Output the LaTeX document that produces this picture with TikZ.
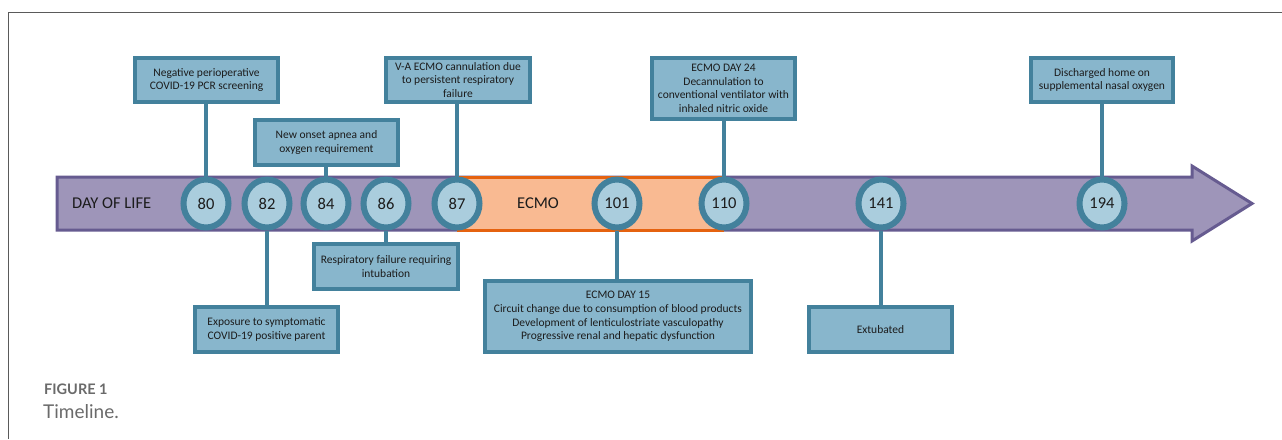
\documentclass[tikz,border=0pt]{standalone}
\usepackage{fontspec}
\setmainfont{Carlito}
\newfontfamily\capfont{Lato}
\usetikzlibrary{shapes.geometric}
\definecolor{framec}{HTML}{5A5A5A}
\definecolor{purf}{HTML}{9E95B9}
\definecolor{purb}{HTML}{665B90}
\definecolor{oraf}{HTML}{F9BA92}
\definecolor{orab}{HTML}{E5620F}
\definecolor{boxf}{HTML}{88B6CC}
\definecolor{boxb}{HTML}{43819C}
\definecolor{cirf}{HTML}{AACDDD}
\definecolor{txt}{HTML}{1C1C1C}
\definecolor{capc}{HTML}{6A6A6A}
\tikzset{
  evbox/.style={draw=boxb, fill=boxf, line width=4, align=center, text=txt,
    font=\fontsize{11.5}{13.6}\selectfont, inner sep=0pt},
  daycirc/.style={ellipse, draw=boxb, fill=cirf, line width=6, text=txt,
    minimum width=45, minimum height=48, inner sep=0pt, font=\fontsize{16.5}{18}\selectfont},
  conn/.style={draw=boxb, line width=4},
  bartext/.style={text=txt, font=\fontsize{16.5}{18}\selectfont, inner sep=0pt}
}
\begin{document}
\begin{tikzpicture}[x=1pt,y=-1pt]
\useasboundingbox (0,0) rectangle (1282,439);
% frame
\draw[framec, line width=1] (1282,12) -- (8,12) -- (8,439);
% main arrow
\draw[fill=purf, draw=purb, line width=3, line join=miter]
  (57,177) -- (1192,177) -- (1192,166) -- (1252,203.5) -- (1192,241) -- (1192,230) -- (57,230) -- cycle;
% ECMO band
\fill[oraf] (457,178.5) rectangle (724,228.5);
\draw[orab, line width=3] (457,177) -- (724,177);
\draw[orab, line width=3] (457,230) -- (724,230);
% bar texts
\node[bartext, anchor=west] (dol) at (72,203.5) {DAY OF LIFE};
\node[bartext] (ecmo) at (538,203.5) {ECMO};
% circles
\node[daycirc] (c80) at (206,203.5) {80};
\node[daycirc] (c82) at (267,203.5) {82};
\node[daycirc] (c84) at (326,203.5) {84};
\node[daycirc] (c86) at (386,203.5) {86};
\node[daycirc] (c87) at (457,203.5) {87};
\node[daycirc] (c101) at (617,203.5) {101};
\node[daycirc] (c110) at (724,203.5) {110};
\node[daycirc] (c141) at (881,203.5) {141};
\node[daycirc] (c194) at (1102,203.5) {194};
% boxes
\node[evbox, minimum width=143, minimum height=44] (neg) at (206.5,80)
  {Negative perioperative\\COVID-19 PCR screening};
\node[evbox, minimum width=143, minimum height=45] (apnea) at (326.5,142.5)
  {New onset apnea and\\oxygen requirement};
\node[evbox, minimum width=144, minimum height=44] (va) at (458,80)
  {V-A ECMO cannulation due\\to persistent respiratory\\failure};
\node[evbox, minimum width=143, minimum height=61] (d24) at (723.5,88.5)
  {ECMO DAY 24\\Decannulation to\\conventional ventilator with\\inhaled nitric oxide};
\node[evbox, minimum width=142, minimum height=44] (disch) at (1102,80)
  {Discharged home on\\supplemental nasal oxygen};
\node[evbox, minimum width=143, minimum height=45] (expo) at (266.5,329.5)
  {Exposure to symptomatic\\COVID-19 positive parent};
\node[evbox, minimum width=144, minimum height=45] (resp) at (386,266.5)
  {Respiratory failure requiring\\intubation};
\node[evbox, minimum width=266, minimum height=71] (d15) at (618,316.5)
  {ECMO DAY 15\\Circuit change due to consumption of blood products\\Development of lenticulostriate vasculopathy\\Progressive renal and hepatic dysfunction};
\node[evbox, minimum width=143, minimum height=45] (extub) at (880.5,329.5)
  {Extubated};
% connectors
\draw[conn] (c80.north) -- (c80.north |- neg.south);
\draw[conn] (c84.north) -- (c84.north |- apnea.south);
\draw[conn] (c87.north) -- (c87.north |- va.south);
\draw[conn] (c110.north) -- (c110.north |- d24.south);
\draw[conn] (c194.north) -- (c194.north |- disch.south);
\draw[conn] (c82.south) -- (c82.south |- expo.north);
\draw[conn] (c86.south) -- (c86.south |- resp.north);
\draw[conn] (c101.south) -- (c101.south |- d15.north);
\draw[conn] (c141.south) -- (c141.south |- extub.north);
% caption
\node[anchor=west, inner sep=0pt, text=capc, font=\capfont\bfseries\fontsize{14.5}{16}\selectfont] (fig) at (44,389) {FIGURE 1};
\node[anchor=west, inner sep=0pt, text=capc, font=\capfont\fontsize{19}{22}\selectfont] (tl) at (43,412) {Timeline.};
\end{tikzpicture}
\end{document}
